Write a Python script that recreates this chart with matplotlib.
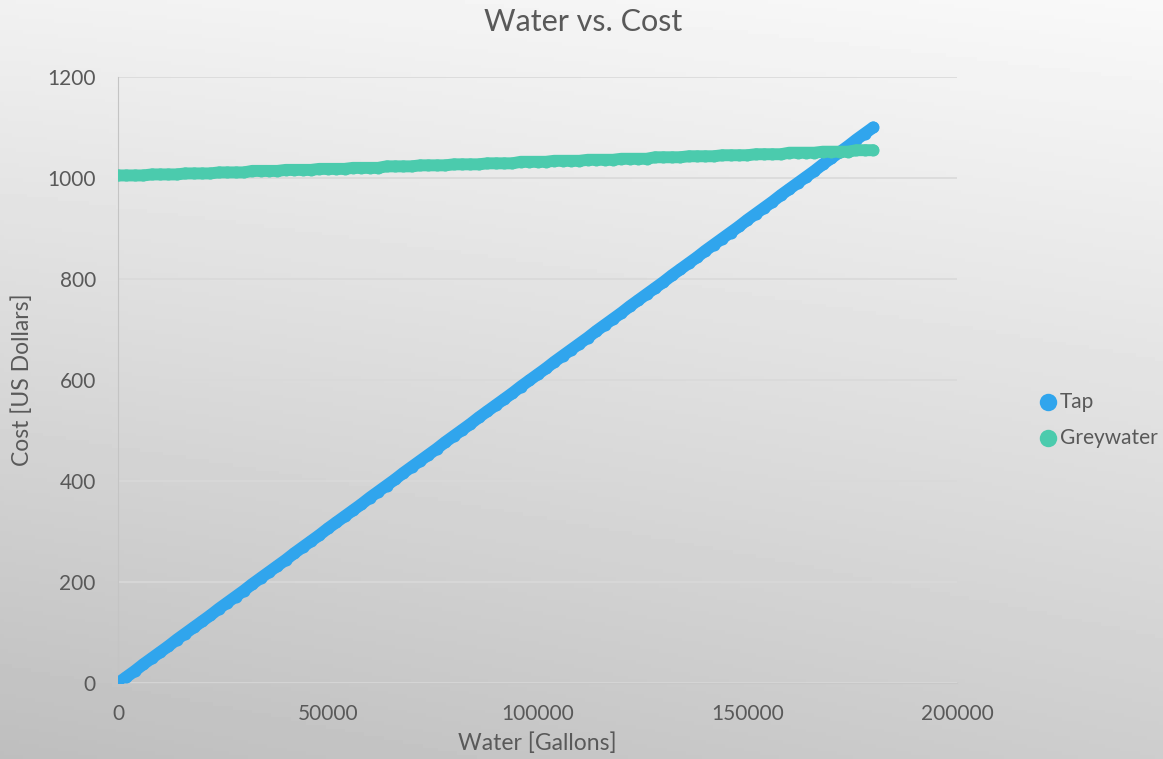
import matplotlib
matplotlib.use("Agg")
import matplotlib.pyplot as plt
import numpy as np

# water used, thousands of gallons
water_k = [0, 2, 4, 6, 8, 10, 12, 14, 16, 18, 20, 22, 24, 26, 28, 30, 32, 34, 36, 38,
           40, 42, 44, 46, 48, 50, 52, 54, 56, 58, 60, 62, 64, 66, 68, 70, 72, 74, 76, 78,
           80, 82, 84, 86, 88, 90, 92, 94, 96, 98, 100, 102, 104, 106, 108, 110, 112, 114,
           116, 118, 120, 122, 124, 126, 128, 130, 132, 134, 136, 138, 140, 142, 144, 146,
           148, 150, 152, 154, 156, 158, 160, 162, 164, 166, 168, 170, 172, 174, 176, 178, 180]

tap_cost = [0, 12, 24, 37, 49, 61, 73, 86, 98, 110, 122, 134, 147, 159, 171, 183, 196, 208,
            220, 232, 244, 257, 269, 281, 293, 306, 318, 330, 342, 354, 367, 379, 391, 403,
            416, 428, 440, 452, 464, 477, 489, 501, 513, 526, 538, 550, 562, 574, 587, 599,
            611, 623, 636, 648, 660, 672, 684, 697, 709, 721, 733, 746, 758, 770, 782, 794,
            807, 819, 831, 843, 856, 868, 880, 892, 904, 917, 929, 941, 953, 966, 978, 990,
            1002, 1014, 1027, 1039, 1051, 1063, 1076, 1088, 1100]

grey_cost = [1005, 1005, 1005, 1005, 1007, 1007, 1007, 1007, 1009, 1009, 1009, 1009,
             1011, 1011, 1011, 1011, 1014, 1014, 1014, 1014, 1016, 1016, 1016, 1016,
             1018, 1018, 1018, 1018, 1020, 1020, 1020, 1020, 1023, 1023, 1023, 1023,
             1025, 1025, 1025, 1025, 1027, 1027, 1027, 1027, 1029, 1029, 1029, 1029,
             1032, 1032, 1032, 1032, 1034, 1034, 1034, 1034, 1036, 1036, 1036, 1036,
             1038, 1038, 1038, 1038, 1041, 1041, 1041, 1041, 1043, 1043, 1043, 1043,
             1045, 1045, 1045, 1045, 1047, 1047, 1047, 1047, 1050, 1050, 1050, 1050,
             1052, 1052, 1052, 1052, 1055, 1055, 1055]

water = np.array(water_k) * 1000

plt.rcParams['font.family'] = ['Lato', 'DejaVu Sans']
txt = '#595959'
tap_col = '#30a5ed'
grey_col = '#4bcbad'

fig = plt.figure(figsize=(11.63, 7.59), dpi=100)

# grey gradient background, darker toward bottom-left
bg = fig.add_axes([0, 0, 1, 1], zorder=-10)
gx, gy = np.meshgrid(np.linspace(0, 1, 300), np.linspace(0, 1, 200))
shade = 0.745 + 0.2 * gy + 0.06 * gx - 0.03 * gx * gy
bg.imshow(shade, cmap='gray', vmin=0, vmax=1, origin='lower', aspect='auto',
          extent=[0, 1, 0, 1])
bg.axis('off')

ax = fig.add_axes([0.1015, 0.1001, 0.7214, 0.7985])
ax.patch.set_alpha(0)

# dots are so dense they merge, so join them with a thick round line too
for y, col, name in [(tap_cost, tap_col, 'Tap'), (grey_cost, grey_col, 'Greywater')]:
    ax.plot(water, y, color=col, lw=8.6, solid_capstyle='round',
            solid_joinstyle='round', zorder=3)
    ax.scatter(water, y, s=75, color=col, label=name, zorder=3, linewidths=0)

ax.set_xlim(0, 200000)
ax.set_ylim(0, 1200)
ax.set_xticks([0, 50000, 100000, 150000, 200000])
ax.set_yticks([0, 200, 400, 600, 800, 1000, 1200])
ax.grid(axis='y', color='#d9d9d9', linewidth=1.2)
ax.set_axisbelow(True)
for s in ['top', 'right']:
    ax.spines[s].set_visible(False)
ax.spines['left'].set_color('#c4c4c4')
ax.spines['bottom'].set_color('#c8c8c8')
ax.tick_params(length=0, labelsize=15, colors=txt, pad=15)
ax.tick_params(axis='y', pad=16)

ax.set_xlabel('Water [Gallons]', fontsize=16.5, color=txt, labelpad=6)
ax.set_ylabel('Cost [US Dollars]', fontsize=16.5, color=txt, labelpad=10)
fig.text(0.501, 0.971, 'Water vs. Cost', fontsize=22, color=txt,
         ha='center', va='center')

fig.legend(loc='center left', bbox_to_anchor=(0.879, 0.447), frameon=False,
           fontsize=15, labelcolor=txt, handlelength=0.7, handletextpad=0.2,
           labelspacing=0.75, markerscale=1.45)

fig.savefig('out.png', dpi=100)
